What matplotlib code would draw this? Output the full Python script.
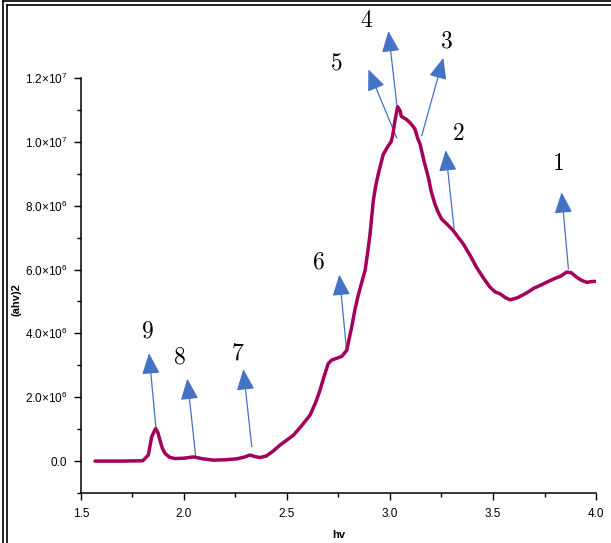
import numpy as np
import matplotlib
matplotlib.use('Agg')
import matplotlib.pyplot as plt
from matplotlib.lines import Line2D
from matplotlib.patches import FancyArrowPatch

plt.rcParams['font.family'] = ['Liberation Sans', 'DejaVu Sans']
plt.rcParams['mathtext.fontset'] = 'custom'
plt.rcParams['mathtext.rm'] = 'Liberation Sans'
plt.rcParams['mathtext.it'] = 'Liberation Sans:italic'
plt.rcParams['mathtext.bf'] = 'Liberation Sans:bold'

# curve (hv, (ahv)^2 in units of 1e6)
hv = [1.568, 1.70, 1.80, 1.827, 1.843, 1.862, 1.873, 1.883, 1.895, 1.908,
      1.930, 1.956, 2.00, 2.045, 2.07, 2.092, 2.142, 2.20, 2.256, 2.29,
      2.32, 2.345, 2.369, 2.40, 2.43, 2.466, 2.531, 2.57, 2.612, 2.64,
      2.66, 2.68, 2.70, 2.716, 2.733, 2.766, 2.79, 2.814, 2.83, 2.846,
      2.865, 2.879, 2.893, 2.903, 2.912, 2.919, 2.93, 2.943, 2.955, 2.967,
      2.980, 2.992, 3.005, 3.013, 3.024, 3.037, 3.049, 3.055, 3.065, 3.08,
      3.097, 3.11, 3.121, 3.135, 3.146, 3.165, 3.186, 3.20, 3.218, 3.235,
      3.251, 3.28, 3.307, 3.33, 3.356, 3.39, 3.42, 3.455, 3.485, 3.51,
      3.534, 3.56, 3.583, 3.62, 3.664, 3.70, 3.728, 3.76, 3.793, 3.83,
      3.858, 3.88, 3.906, 3.93, 3.955, 3.975, 3.995]
ahv2 = [0.0, 0.0, 0.01, 0.19, 0.76, 1.02, 0.90, 0.66, 0.40, 0.24,
        0.12, 0.08, 0.09, 0.13, 0.10, 0.07, 0.03, 0.04, 0.07, 0.12,
        0.19, 0.14, 0.11, 0.16, 0.30, 0.50, 0.81, 1.10, 1.44, 1.85,
        2.22, 2.65, 3.05, 3.16, 3.20, 3.28, 3.47, 4.2, 4.75, 5.20,
        5.65, 5.97, 6.6, 7.1, 7.7, 8.16, 8.6, 8.99, 9.3, 9.6,
        9.75, 9.88, 10.0, 10.2, 10.66, 11.1, 10.97, 10.80, 10.76, 10.70,
        10.6, 10.5, 10.4, 10.1, 9.93, 9.4, 8.89, 8.45, 8.05, 7.78,
        7.58, 7.40, 7.22, 7.02, 6.8, 6.43, 6.07, 5.72, 5.45, 5.30,
        5.24, 5.12, 5.05, 5.12, 5.27, 5.42, 5.5, 5.60, 5.7, 5.80,
        5.92, 5.90, 5.76, 5.66, 5.6, 5.62, 5.63]

# numbered arrows: tail on curve, tip, label position (hv, 1e6)
peak_labels = ['1', '2', '3', '4', '5', '6', '7', '8', '9']
tail_x = [3.866, 3.311, 3.154, 3.035, 3.033, 2.790, 2.329, 2.057, 1.864]
tail_y = [6.02, 7.29, 10.19, 11.07, 10.12, 3.42, 0.45, 0.13, 1.02]
tip_x = [3.833, 3.270, 3.259, 2.992, 2.895, 2.754, 2.288, 2.016, 1.830]
tip_y = [8.42, 9.74, 12.63, 13.47, 12.27, 5.84, 2.88, 2.58, 3.38]
lab_x = [3.820, 3.332, 3.275, 2.887, 2.741, 2.657, 2.261, 1.981, 1.827]
lab_y = [9.31, 10.24, 13.16, 13.78, 12.43, 6.23, 3.37, 3.26, 4.07]

yticks = [0, 2e6, 4e6, 6e6, 8e6, 1e7, 1.2e7]
ytick_labels = ['0.0', r'$2.0{\times}10^6$', r'$4.0{\times}10^6$', r'$6.0{\times}10^6$',
                r'$8.0{\times}10^6$', r'$1.0{\times}10^7$', r'$1.2{\times}10^7$']
xticks = [1.5, 2.0, 2.5, 3.0, 3.5, 4.0]

fig = plt.figure(figsize=(6.11, 5.43), dpi=100)
ax = fig.add_axes([81/611, 50/543, 515/611, 415/543])

ax.plot(hv, np.array(ahv2)*1e6, color='#A3005C', lw=2.5, solid_joinstyle='round', solid_capstyle='round')

for i in range(len(peak_labels)):
    arr = FancyArrowPatch((tail_x[i], tail_y[i]*1e6), (tip_x[i], tip_y[i]*1e6),
                          arrowstyle='-|>,head_length=13,head_width=5.5', mutation_scale=1,
                          color='#4472C4', lw=0.9, shrinkA=0, shrinkB=0, clip_on=False)
    ax.add_patch(arr)
    ax.text(lab_x[i], lab_y[i]*1e6, peak_labels[i], fontfamily='cmr10', fontsize=17,
            ha='center', va='center', clip_on=False)

ax.set_xlim(1.5, 4.0)
ax.set_ylim(-1e6, 1.2e7)
ax.set_xticks(xticks)
ax.set_xticklabels(['%.1f' % v for v in xticks])
ax.set_xticks([1.75, 2.25, 2.75, 3.25, 3.75], minor=True)
ax.set_yticks(yticks)
ax.set_yticklabels(ytick_labels)
ax.set_yticks([-1e6, 1e6, 3e6, 5e6, 7e6, 9e6, 1.1e7], minor=True)
ax.tick_params(which='major', direction='out', length=5, width=1, labelsize=8.5)
ax.tick_params(axis='y', which='major', pad=5)
ax.tick_params(axis='x', which='major', pad=6)
ax.tick_params(which='minor', direction='out', length=3, width=1)

for s in ['top', 'right']:
    ax.spines[s].set_visible(False)
for s in ['left', 'bottom']:
    ax.spines[s].set_linewidth(1.1)

ax.set_xlabel('hv', fontsize=8, fontweight='bold')
ax.xaxis.set_label_coords(0.5, -0.088)
ax.set_ylabel('(ahv)2', fontsize=8, fontweight='bold')
ax.yaxis.set_label_coords(-0.115, 0.465)

# double frame at left and top
lw = 1.2
fig.add_artist(Line2D([3/611, 3/611], [0, 1 - 1/543], color='k', lw=lw, transform=fig.transFigure))
fig.add_artist(Line2D([3/611, 1], [1 - 1/543, 1 - 1/543], color='k', lw=lw, transform=fig.transFigure))
fig.add_artist(Line2D([7/611, 7/611], [0, 1 - 5/543], color='k', lw=lw, transform=fig.transFigure))
fig.add_artist(Line2D([7/611, 1], [1 - 5/543, 1 - 5/543], color='k', lw=lw, transform=fig.transFigure))

fig.savefig('out.png', dpi=100)
plt.close(fig)
